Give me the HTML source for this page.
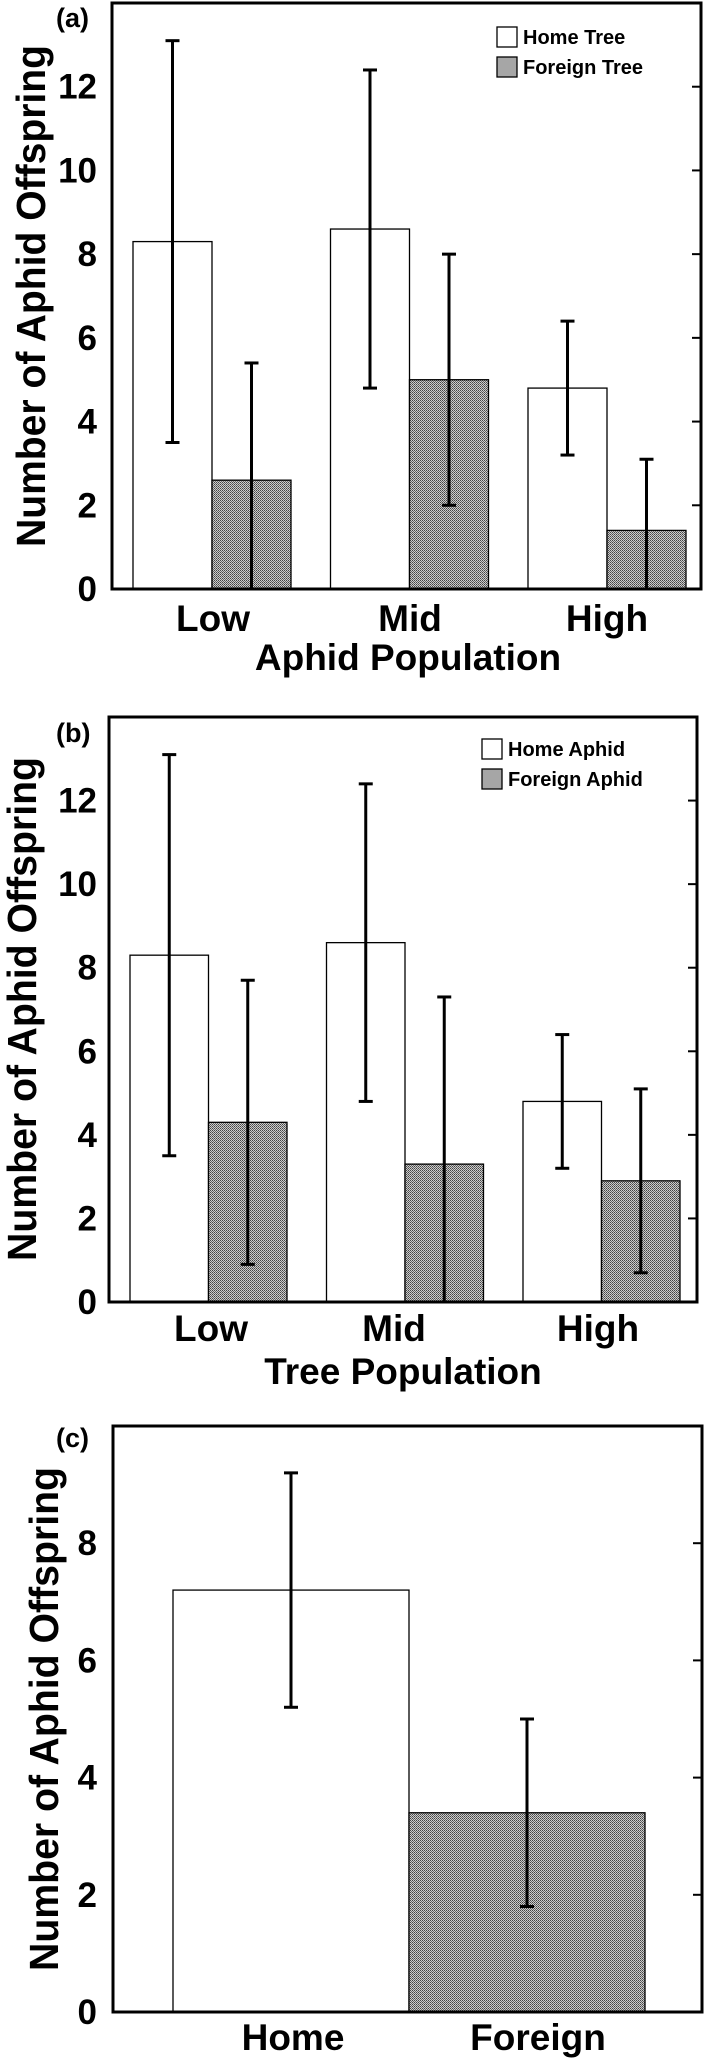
<!DOCTYPE html>
<html><head><meta charset="utf-8"><style>
html,body{margin:0;padding:0;background:#fff;}
svg{display:block;font-family:"Liberation Sans",Arial,sans-serif;}
</style></head><body>
<svg id="chart" width="709" height="2061" viewBox="0 0 709 2061">
<defs>
<pattern id="dots" width="2" height="2" patternUnits="userSpaceOnUse">
<rect width="2" height="2" fill="#cccccc"/><rect width="1" height="1" fill="#444"/><rect x="1" y="1" width="1" height="1" fill="#666"/>
</pattern>
</defs>
</svg>
<script>
// Panel (a)
const catsA = ["Low","Mid","High"];
const homeA = [8.3, 8.6, 4.8];
const homeLoA = [3.5, 4.8, 3.2];
const homeHiA = [13.1, 12.4, 6.4];
const forA = [2.6, 5.0, 1.4];
const forLoA = [0, 2.0, 0];
const forHiA = [5.4, 8.0, 3.1];
const ticksA = [0,2,4,6,8,10,12];
// Panel (b)
const catsB = ["Low","Mid","High"];
const homeB = [8.3, 8.6, 4.8];
const homeLoB = [3.5, 4.8, 3.2];
const homeHiB = [13.1, 12.4, 6.4];
const forB = [4.3, 3.3, 2.9];
const forLoB = [0.9, 0, 0.7];
const forHiB = [7.7, 7.3, 5.1];
const ticksB = [0,2,4,6,8,10,12];
// Panel (c)
const catsC = ["Home","Foreign"];
const valsC = [7.2, 3.4];
const loC = [5.2, 1.8];
const hiC = [9.2, 5.0];
const ticksC = [0,2,4,6,8];

const svg = document.getElementById('chart');
const NS = 'http://www.w3.org/2000/svg';
function mk(tag, attrs, parent){
  const e = document.createElementNS(NS, tag);
  for (const k in attrs) e.setAttribute(k, attrs[k]);
  (parent||svg).appendChild(e);
  return e;
}

function panel(p){
  const g = mk('g', {});
  
  
  const yS = v => p.bottom - (v / p.ymax) * (p.bottom - p.top);
  p.series.forEach((s, si) => {
    s.vals.forEach((v, i) => {
      const x0 = p.x0 + i * p.groupW + si * p.barW;
      const fill = s.fills ? s.fills[i] : s.fill;
      const r = mk('rect', {x:x0, y:yS(v), width:p.barW, height:p.bottom - yS(v), fill:fill, stroke:'#000', 'stroke-width':1.3}, g);
      
      
    });
  });
  p.series.forEach((s, si) => {
    s.vals.forEach((v, i) => {
      const cx = p.x0 + i * p.groupW + si * p.barW + p.barW / 2;
      const eg = mk('g', {stroke:'#000', 'stroke-width':3}, g);
      
      
      const y1 = yS(s.lo[i]), y2 = yS(s.hi[i]);
      mk('line', {x1:cx, x2:cx, y1:y1, y2:y2}, eg);
      mk('line', {x1:cx-7, x2:cx+7, y1:y1, y2:y1}, eg);
      mk('line', {x1:cx-7, x2:cx+7, y1:y2, y2:y2}, eg);
    });
  });
  const fr = mk('rect', {x:p.left, y:p.top, width:p.right - p.left, height:p.bottom - p.top, fill:'none', stroke:'#000', 'stroke-width':3}, g);
  
  
  p.ticks.forEach(t => {
    const y = yS(t);
    if (t > 0) mk('line', {x1:p.right - 9, x2:p.right, y1:y, y2:y, stroke:'#000', 'stroke-width':2}, g);
    const tl = mk('text', {x:97, y:y + 12, 'text-anchor':'end', 'font-size':35, 'font-weight':'bold'}, g);
    tl.textContent = t;
    
    
  });
  p.cats.forEach((c, i) => {
    const t = mk('text', {x:p.labelX[i], y:p.catY, 'text-anchor':'middle', 'font-size':37, 'font-weight':'bold'}, g);
    t.textContent = c;
    
    
  });
  if (p.xTitle){
    const xt = mk('text', {x:p.xTitleX, y:p.xTitleY, 'text-anchor':'middle', 'font-size':37, 'font-weight':'bold'}, g);
    xt.textContent = p.xTitle;
    
    
  }
  const yt = mk('text', {x:0, y:0, 'text-anchor':'middle', 'font-size':41, 'font-weight':'bold', textLength:p.yTitleLen, lengthAdjust:'spacingAndGlyphs', transform:'translate(' + p.yTitleX + ',' + p.yTitleY + ') rotate(-90)'}, g);
  yt.textContent = 'Number of Aphid Offspring';
  
  
  const pl = mk('text', {x:56, y:p.tagY, 'font-size':27, 'font-weight':'bold'}, g);
  pl.textContent = '(' + p.id + ')';
  
  
  if (p.legend){
    p.legend.forEach((L, i) => {
      const lg = mk('g', {}, g);
      
      
      mk('rect', {x:p.legX, y:p.legY + i * 30, width:20, height:20, fill:L.fill, stroke:'#000', 'stroke-width':1.3}, lg);
      const lt = mk('text', {x:p.legX + 26, y:p.legY + i * 30 + 17, 'font-size':20, 'font-weight':'bold'}, lg);
      lt.textContent = L.label;
    });
  }
}

panel({id:'a', left:112, right:701, top:3, bottom:589, ymax:14, x0:133, groupW:197.5, barW:79,
  cats:catsA, ticks:ticksA,
  series:[{key:'home', vals:homeA, lo:homeLoA, hi:homeHiA, fill:'#fff'},{key:'foreign', vals:forA, lo:forLoA, hi:forHiA, fill:'url(#dots)'}],
  labelX:[213,410,607], catY:631, xTitle:'Aphid Population', xTitleX:408, xTitleY:670,
  yTitleX:45, yTitleY:296, yTitleLen:502, tagY:27,
  legX:497, legY:27, legend:[{key:'home-tree', label:'Home Tree', fill:'#fff'},{key:'foreign-tree', label:'Foreign Tree', fill:'#a6a6a6'}]});

panel({id:'b', left:109, right:697, top:717, bottom:1302, ymax:14, x0:130, groupW:196.5, barW:78.5,
  cats:catsB, ticks:ticksB,
  series:[{key:'home', vals:homeB, lo:homeLoB, hi:homeHiB, fill:'#fff'},{key:'foreign', vals:forB, lo:forLoB, hi:forHiB, fill:'url(#dots)'}],
  labelX:[211,394,598], catY:1341, xTitle:'Tree Population', xTitleX:403, xTitleY:1384,
  yTitleX:36, yTitleY:1009, yTitleLen:504, tagY:742,
  legX:482, legY:739, legend:[{key:'home-aphid', label:'Home Aphid', fill:'#fff'},{key:'foreign-aphid', label:'Foreign Aphid', fill:'#a6a6a6'}]});

panel({id:'c', left:113, right:702, top:1426, bottom:2012, ymax:10, x0:173, groupW:236, barW:236,
  cats:catsC, ticks:ticksC,
  series:[{key:'c', vals:valsC, lo:loC, hi:hiC, fills:['#fff','url(#dots)']}],
  labelX:[293,538], catY:2050, xTitle:null,
  yTitleX:58, yTitleY:1719, yTitleLen:504, tagY:1447});
</script>
</body></html>
